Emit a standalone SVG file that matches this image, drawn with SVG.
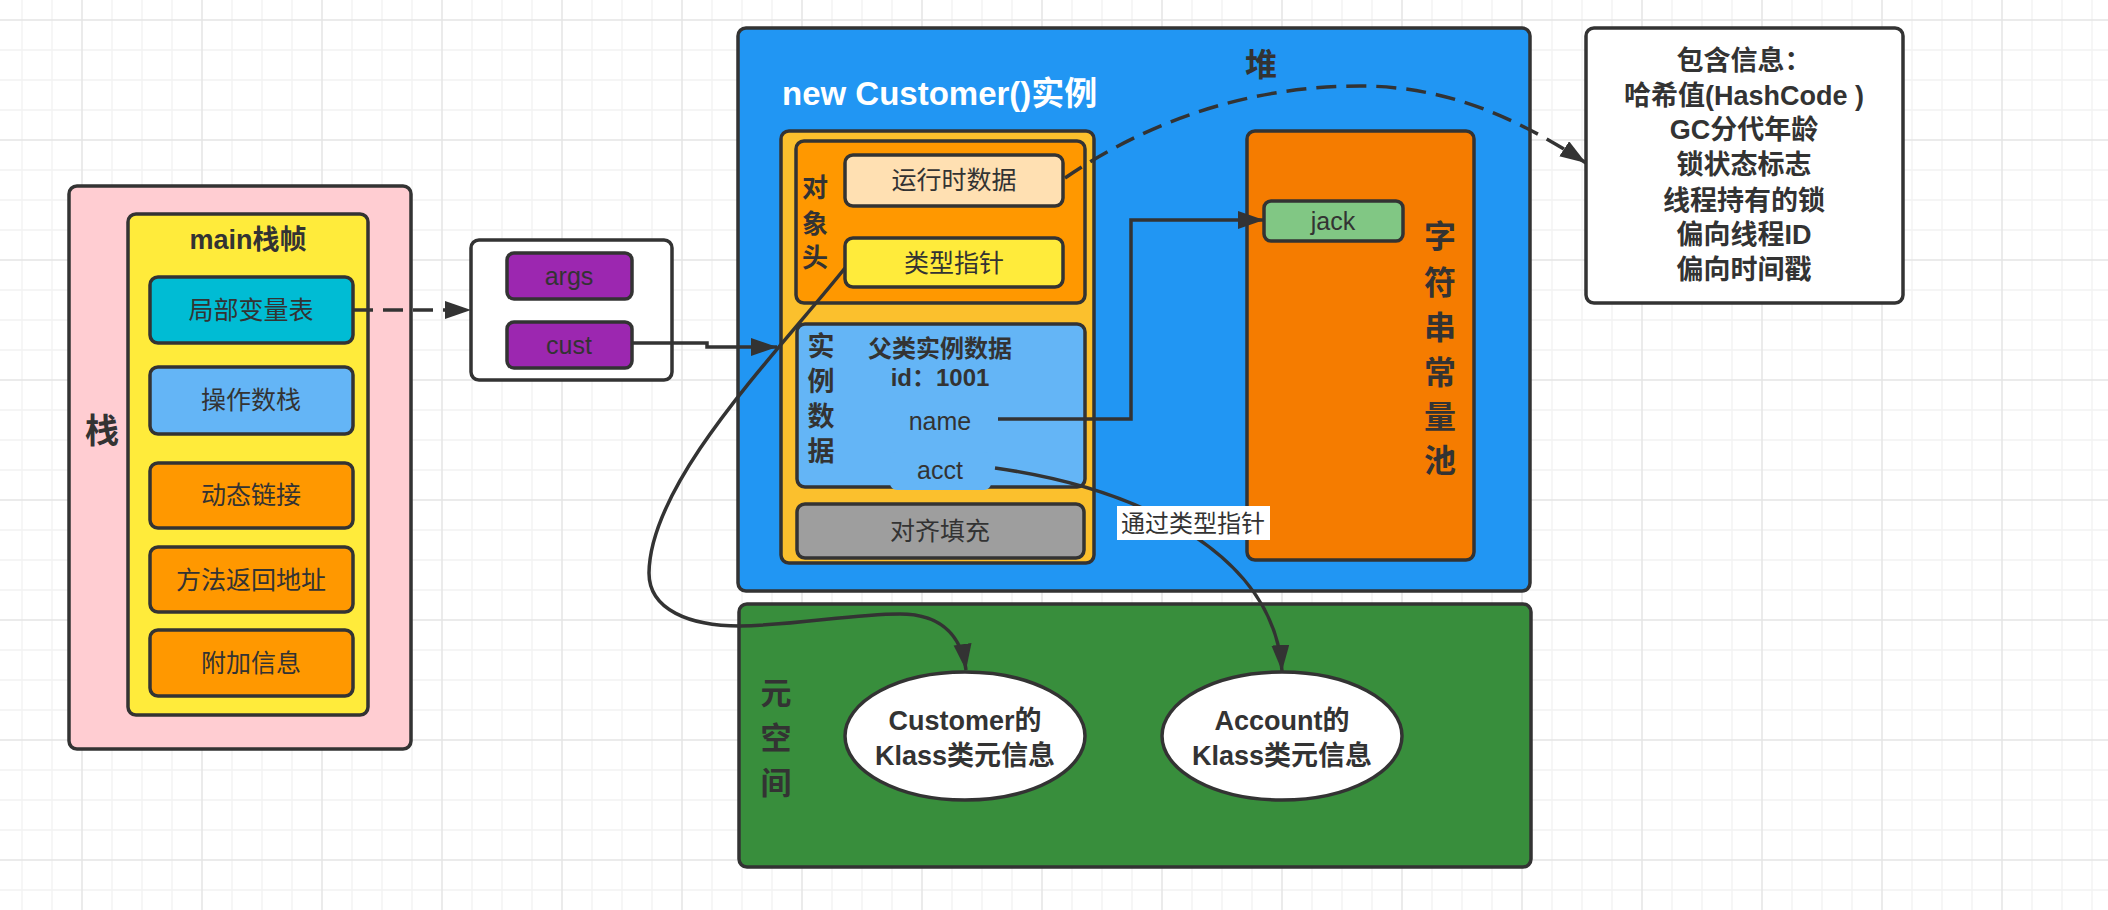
<svg xmlns="http://www.w3.org/2000/svg" width="2108" height="910" viewBox="0 0 2108 910">
<style>
.b{stroke:#333333;stroke-width:3.5}
.t{font-family:"Liberation Sans","Noto Sans CJK SC",sans-serif;fill:#333333;text-anchor:middle;dominant-baseline:central}
.n{font-size:25px}
.bd{font-weight:bold}
.c{fill:none;stroke:#333333;stroke-width:3.5}
.d{stroke-dasharray:20 10}
</style>
<defs>
<pattern id="grid" x="81" y="19" width="120" height="120" patternUnits="userSpaceOnUse">
<path d="M31 0V120M61 0V120M91 0V120M0 31H120M0 61H120M0 91H120" stroke="#f2f2f2" stroke-width="1.3" fill="none"/>
<path d="M1 0V120M0 1H120" stroke="#e5e5e5" stroke-width="1.5" fill="none"/>
</pattern>
<marker id="ar" markerUnits="userSpaceOnUse" markerWidth="28" markerHeight="20" refX="26" refY="9" orient="auto">
<path d="M0,0 L26,9 L0,18 Z" fill="#333333"/>
</marker>
</defs>
<rect width="2108" height="910" fill="#ffffff"/>
<rect width="2108" height="910" fill="url(#grid)"/>

<g id="stack">
<rect x="69" y="186" width="342" height="563" rx="8" fill="#FFCDD2" class="b"/>
<text x="102" y="431" class="t bd" font-size="34">栈</text>
</g>
<g id="main-frame">
<rect x="128" y="214" width="240" height="501" rx="8" fill="#FFEB3B" class="b"/>
<text x="248" y="240" class="t bd" font-size="27">main栈帧</text>
</g>
<g id="local-vars">
<rect x="150" y="277" width="203" height="66" rx="8" fill="#00BCD4" class="b"/>
<text x="251" y="310" class="t n">局部变量表</text>
</g>
<g id="operand-stack">
<rect x="150" y="367" width="203" height="67" rx="8" fill="#64B5F6" class="b"/>
<text x="251" y="400" class="t n">操作数栈</text>
</g>
<g id="dynamic-link">
<rect x="150" y="463" width="203" height="65" rx="8" fill="#FF9800" class="b"/>
<text x="251" y="495" class="t n">动态链接</text>
</g>
<g id="return-address">
<rect x="150" y="547" width="203" height="65" rx="8" fill="#FF9800" class="b"/>
<text x="251" y="580" class="t n">方法返回地址</text>
</g>
<g id="extra-info">
<rect x="150" y="630" width="203" height="66" rx="8" fill="#FF9800" class="b"/>
<text x="251" y="663" class="t n">附加信息</text>
</g>
<g id="var-table">
<rect x="471" y="240" width="201" height="140" rx="8" fill="#ffffff" class="b"/>
</g>
<g id="args">
<rect x="507" y="253" width="125" height="46" rx="7" fill="#9C27B0" class="b"/>
<text x="569" y="276" class="t n">args</text>
</g>
<g id="cust">
<rect x="507" y="322" width="125" height="46" rx="7" fill="#9C27B0" class="b"/>
<text x="569" y="345" class="t n">cust</text>
</g>

<g id="heap">
<rect x="738" y="28" width="792" height="563" rx="8" fill="#2196F3" class="b"/>
<text x="1261" y="65" class="t bd" font-size="32">堆</text>
<text x="782" y="93" class="t bd" font-size="33" style="fill:#ffffff;text-anchor:start">new Customer()实例</text>
</g>
<g id="instance">
<rect x="781" y="131" width="313" height="432" rx="8" fill="#FBC02D" class="b"/>
</g>
<g id="object-header">
<rect x="796" y="141" width="289" height="162" rx="8" fill="#FF9800" class="b"/>
<text x="815" y="188" class="t bd" font-size="26">对</text>
<text x="815" y="224" class="t bd" font-size="26">象</text>
<text x="815" y="258" class="t bd" font-size="26">头</text>
</g>
<g id="runtime-data">
<rect x="845" y="155" width="218" height="51" rx="8" fill="#FFE0B2" class="b"/>
<text x="954" y="180" class="t n">运行时数据</text>
</g>
<g id="type-pointer">
<rect x="845" y="238" width="218" height="49" rx="8" fill="#FFEB3B" class="b"/>
<text x="954" y="263" class="t n">类型指针</text>
</g>
<g id="instance-data">
<rect x="797" y="324" width="288" height="163" rx="8" fill="#64B5F6" class="b"/>
<text x="821" y="347" class="t bd" font-size="27">实</text>
<text x="821" y="382" class="t bd" font-size="27">例</text>
<text x="821" y="417" class="t bd" font-size="27">数</text>
<text x="821" y="452" class="t bd" font-size="27">据</text>
<text x="940" y="348" class="t bd" font-size="24">父类实例数据</text>
<text x="940" y="377" class="t bd" font-size="24">id：1001</text>
<text x="940" y="421" class="t n">name</text>
<rect x="890" y="452" width="101" height="38" rx="7" fill="#64B5F6"/>
<text x="940" y="470" class="t n">acct</text>
</g>
<g id="padding">
<rect x="797" y="504" width="287" height="54" rx="8" fill="#9E9E9E" class="b"/>
<text x="940" y="531" class="t n">对齐填充</text>
</g>
<g id="string-pool">
<rect x="1247" y="131" width="227" height="429" rx="8" fill="#F57C00" class="b"/>
<text x="1440" y="237" class="t bd" font-size="32">字</text>
<text x="1440" y="283" class="t bd" font-size="32">符</text>
<text x="1440" y="328" class="t bd" font-size="32">串</text>
<text x="1440" y="373" class="t bd" font-size="32">常</text>
<text x="1440" y="417" class="t bd" font-size="32">量</text>
<text x="1440" y="461" class="t bd" font-size="32">池</text>
</g>
<g id="jack">
<rect x="1264" y="201" width="139" height="40" rx="7" fill="#81C784" class="b"/>
<text x="1333" y="221" class="t n">jack</text>
</g>
<g id="header-info">
<rect x="1586" y="28" width="317" height="275" rx="8" fill="#ffffff" class="b"/>
<text x="1744" y="61" class="t bd" font-size="27">包含信息：</text>
<text x="1744" y="96" class="t bd" font-size="27">哈希值(HashCode )</text>
<text x="1744" y="130" class="t bd" font-size="27">GC分代年龄</text>
<text x="1744" y="165" class="t bd" font-size="27">锁状态标志</text>
<text x="1744" y="201" class="t bd" font-size="27">线程持有的锁</text>
<text x="1744" y="235" class="t bd" font-size="27">偏向线程ID</text>
<text x="1744" y="270" class="t bd" font-size="27">偏向时间戳</text>
</g>

<g id="metaspace">
<rect x="739" y="604" width="792" height="263" rx="8" fill="#388E3C" class="b"/>
<text x="776" y="693" class="t bd" font-size="31">元</text>
<text x="776" y="738" class="t bd" font-size="31">空</text>
<text x="776" y="783" class="t bd" font-size="31">间</text>
</g>
<g id="customer-klass">
<ellipse cx="965" cy="736" rx="120" ry="64" fill="#ffffff" class="b"/>
<text x="965" y="721" class="t bd" font-size="27">Customer的</text>
<text x="965" y="756" class="t bd" font-size="27">Klass类元信息</text>
</g>
<g id="account-klass">
<ellipse cx="1282" cy="736" rx="120" ry="64" fill="#ffffff" class="b"/>
<text x="1282" y="721" class="t bd" font-size="27">Account的</text>
<text x="1282" y="756" class="t bd" font-size="27">Klass类元信息</text>
</g>

<g id="connectors">
<path d="M353,310 L471,310" class="c d" marker-end="url(#ar)"/>
<path d="M633,343 L707,343 L707,347 L777,347" class="c" marker-end="url(#ar)"/>
<path d="M845,268 C780,350 650,480 649,573 C649,610 690,626 740,626 C800,625 850,614 900,614 C945,614 962,640 966,670" class="c" marker-end="url(#ar)"/>
<path d="M998,419 H1131 V220 H1264" class="c" marker-end="url(#ar)"/>
<path d="M995,468 C1150,490 1275,560 1282,671" class="c" marker-end="url(#ar)"/>
<path d="M1065,178 C1150,120 1250,86 1360,86 C1450,86 1520,120 1586,163" class="c d" marker-end="url(#ar)"/>
<rect x="1117" y="506" width="153" height="34" fill="#ffffff"/>
<text x="1193" y="523" class="t" font-size="24">通过类型指针</text>
</g>
</svg>
